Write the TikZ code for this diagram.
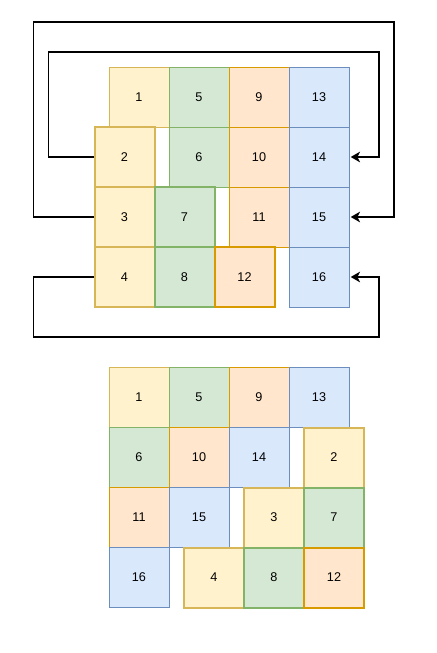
\documentclass[tikz,border=0pt]{standalone}
\usepackage{fontspec}
\setmainfont{Liberation Sans}
\usetikzlibrary{calc}
\usetikzlibrary{arrows.meta}
\definecolor{yelfill}{HTML}{FFF2CC}
\definecolor{yeldraw}{HTML}{D6B656}
\definecolor{grnfill}{HTML}{D5E8D4}
\definecolor{grndraw}{HTML}{82B366}
\definecolor{orafill}{HTML}{FFE6CC}
\definecolor{oradraw}{HTML}{D79B00}
\definecolor{blufill}{HTML}{DAE8FC}
\definecolor{bludraw}{HTML}{6C8EBF}

\begin{document}
\begin{tikzpicture}[x=0.75pt,y=-0.75pt,
        cell/.style={draw,minimum size=45pt,inner sep=0pt,line width=0.6pt,font=\fontsize{9.5}{11}\selectfont},
        moved/.style={cell,line width=1.5pt},
        yel/.style={fill=yelfill,draw=yeldraw},
        grn/.style={fill=grnfill,draw=grndraw},
        ora/.style={fill=orafill,draw=oradraw},
        blu/.style={fill=blufill,draw=bludraw},
        link/.style={-{Stealth[length=7pt,width=8pt,inset=2pt]},line width=0.8pt,shorten >=1pt}]
        \fill[white] (0,0) rectangle (436,653);
        \useasboundingbox (0,0) rectangle (436,653);

        % top grid, first line
        \node[cell,yel] (t1) at (139,97) {1};
        \node[cell,grn] (t5) at (199,97) {5};
        \node[cell,ora] (t9) at (259,97) {9};
        \node[cell,blu] (t13) at (319,97) {13};
        % sec line
        \node[cell,grn] (t6) at (199,157) {6};
        \node[cell,ora] (t10) at (259,157) {10};
        \node[cell,blu] (t14) at (319,157) {14};
        % third line
        \node[cell,ora] (t11) at (259,217) {11};
        \node[cell,blu] (t15) at (319,217) {15};
        % bottom line
        \node[cell,blu] (t16) at (319,277) {16};
        % moved cells
        \node[moved,yel] (t2) at (124.5,157) {2};
        \node[moved,yel] (t3) at (124.5,217) {3};
        \node[moved,yel] (t4) at (124.5,277) {4};
        \node[moved,grn] (t7) at (184.5,217) {7};
        \node[moved,grn] (t8) at (184.5,277) {8};
        \node[moved,ora] (t12) at (244.5,277) {12};

        % wrap around
        \draw[link] (t2.west) -- ++(-45,0) |- (379,52) |- (t14.east);
        \draw[link] (t3.west) -- ++(-60,0) |- (394,22) |- (t15.east);
        \draw[link] (t4.west) -- ++(-60,0) |- (379,337) |- (t16.east);

        % bottom grid, first line
        \node[cell,yel] (b1) at (139,397.5) {1};
        \node[cell,grn] (b5) at (199,397.5) {5};
        \node[cell,ora] (b9) at (259,397.5) {9};
        \node[cell,blu] (b13) at (319,397.5) {13};
        % sec line
        \node[cell,grn] (b6) at (139,457.5) {6};
        \node[cell,ora] (b10) at (199,457.5) {10};
        \node[cell,blu] (b14) at (259,457.5) {14};
        % third line
        \node[cell,ora] (b11) at (139,517.5) {11};
        \node[cell,blu] (b15) at (199,517.5) {15};
        % bottom line
        \node[cell,blu] (b16) at (139,577.5) {16};
        % moved cells
        \node[moved,yel] (b2) at (334,457.5) {2};
        \node[moved,yel] (b3) at (274,517.5) {3};
        \node[moved,grn] (b7) at (334,517.5) {7};
        \node[moved,yel] (b4) at (214,577.5) {4};
        \node[moved,grn] (b8) at (274,577.5) {8};
        \node[moved,ora] (b12) at (334,577.5) {12};
\end{tikzpicture}
\end{document}
